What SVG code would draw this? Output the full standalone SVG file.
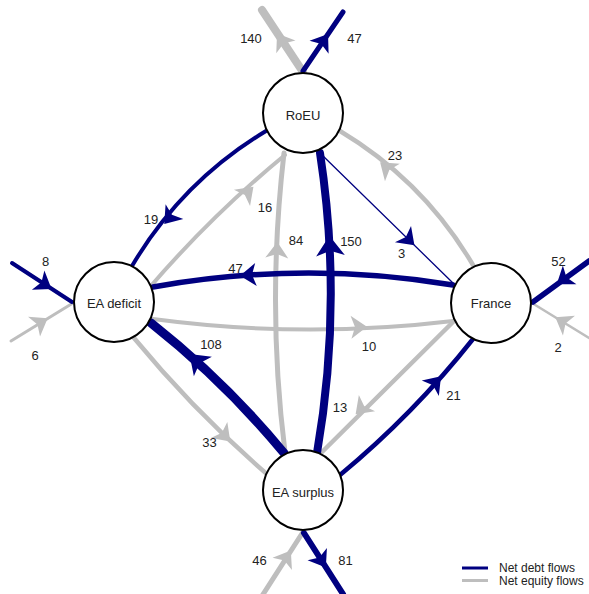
<svg xmlns="http://www.w3.org/2000/svg" width="589" height="594" viewBox="0 0 589 594">
<style>
.debt{fill:none;stroke:#000080;stroke-linecap:round}
.eq{fill:none;stroke:#bebebe;stroke-linecap:round}
.ad{fill:#000080}
.ae{fill:#bebebe}
.node circle{fill:#fff;stroke:#000;stroke-width:2}
.node text,.lbl{font-family:"Liberation Sans",Arial,sans-serif;font-size:13px;fill:#222;text-anchor:middle}
.leg{font-family:"Liberation Sans",Arial,sans-serif;font-size:12px;fill:#222}
</style>
<defs>
<path id="ah" d="M9,0 L-7,-11.5 L-3,0 L-7,11.5 Z"/>
</defs>
<rect width="589" height="594" fill="#fff"/>
<g id="connectors">
<g id="equity">
<path class="eq" stroke-width="8" d="M303,72 L262,10"/>
<path class="eq" stroke-width="4.5" d="M340,131 Q423.5,181 473,265"/>
<path class="eq" stroke-width="4" d="M150,287 Q212,215 285,155"/>
<path class="eq" stroke-width="5" d="M285,452 Q266.5,305 284,153"/>
<path class="eq" stroke-width="4" d="M153,319 Q303,339 453,321"/>
<path class="eq" stroke-width="4.5" d="M455,320 L319,455"/>
<path class="eq" stroke-width="4.5" d="M134,338 Q195,412 268,475"/>
<path class="eq" stroke-width="3" d="M73,303 L11,341"/>
<path class="eq" stroke-width="2.5" d="M532,303 L589,338"/>
<path class="eq" stroke-width="5" d="M303,532 L262,596"/>
<use href="#ah" class="ae" transform="translate(282,41) rotate(-123.5)"/>
<use href="#ah" class="ae" transform="translate(387,168) rotate(-140)"/>
<use href="#ah" class="ae" transform="translate(247,193) rotate(-44.4)"/>
<use href="#ah" class="ae" transform="translate(277,251) rotate(-88)"/>
<use href="#ah" class="ae" transform="translate(358,327) rotate(-2.3)"/>
<use href="#ah" class="ae" transform="translate(362,408) rotate(135.2)"/>
<use href="#ah" class="ae" transform="translate(224,435) rotate(45.6)"/>
<use href="#ah" class="ae" transform="translate(40,323) rotate(-31.5)"/>
<use href="#ah" class="ae" transform="translate(563,322) rotate(-148.4)"/>
<use href="#ah" class="ae" transform="translate(286,558) rotate(-57.4)"/>
</g>
<g id="debt">
<path class="debt" stroke-width="5" d="M303,71 L343,12"/>
<path class="debt" stroke-width="4" d="M266,131 Q182,181.6 132,266"/>
<path class="debt" stroke-width="8" d="M317,453 Q343,303 320,153"/>
<path class="debt" stroke-width="1.3" d="M321,154 L454,284"/>
<path class="debt" stroke-width="5.5" d="M453,285 Q303,260 153,287"/>
<path class="debt" stroke-width="9" d="M284,453 Q224.5,381 151,323"/>
<path class="debt" stroke-width="4.5" d="M340,475 Q413.7,414 473,339"/>
<path class="debt" stroke-width="4" d="M12,263 L72,302"/>
<path class="debt" stroke-width="5.5" d="M589,261 L533,302"/>
<path class="debt" stroke-width="6" d="M304,533 L343,594"/>
<use href="#ah" class="ad" transform="translate(323,41.5) rotate(-55.9)"/>
<use href="#ah" class="ad" transform="translate(170,217) rotate(129.6)"/>
<use href="#ah" class="ad" transform="translate(330,247) rotate(-93) scale(1.25)"/>
<use href="#ah" class="ad" transform="translate(408,239) rotate(44.3)"/>
<use href="#ah" class="ad" transform="translate(249,275) rotate(176)"/>
<use href="#ah" class="ad" transform="translate(197,361) rotate(-137) scale(1.15)"/>
<use href="#ah" class="ad" transform="translate(435,383) rotate(-48)"/>
<use href="#ah" class="ad" transform="translate(44,284) rotate(33)"/>
<use href="#ah" class="ad" transform="translate(564,279) rotate(143.8)"/>
<use href="#ah" class="ad" transform="translate(321,560) rotate(57.4)"/>
</g>
</g>
<g id="edge-labels">
<text class="lbl" x="251" y="43">140</text>
<text class="lbl" x="354.5" y="43">47</text>
<text class="lbl" x="395" y="160">23</text>
<text class="lbl" x="151" y="224">19</text>
<text class="lbl" x="265" y="212">16</text>
<text class="lbl" x="296" y="245">84</text>
<text class="lbl" x="351" y="246">150</text>
<text class="lbl" x="401.5" y="258">3</text>
<text class="lbl" x="235.5" y="273">47</text>
<text class="lbl" x="45.5" y="266">8</text>
<text class="lbl" x="35" y="360">6</text>
<text class="lbl" x="558.5" y="266">52</text>
<text class="lbl" x="558" y="352">2</text>
<text class="lbl" x="211" y="349">108</text>
<text class="lbl" x="369" y="351">10</text>
<text class="lbl" x="340" y="412">13</text>
<text class="lbl" x="453.5" y="400">21</text>
<text class="lbl" x="209.5" y="447">33</text>
<text class="lbl" x="259.5" y="565">46</text>
<text class="lbl" x="345.5" y="565">81</text>
</g>
<g id="RoEU" class="node"><circle cx="303" cy="113" r="40"/><text x="303" y="120">RoEU</text></g>
<g id="EA-deficit" class="node"><circle cx="114" cy="302" r="40"/><text x="114" y="307.5">EA deficit</text></g>
<g id="France" class="node"><circle cx="491" cy="303" r="40"/><text x="491" y="307.5">France</text></g>
<g id="EA-surplus" class="node"><circle cx="303" cy="490" r="40"/><text x="303" y="496.5">EA surplus</text></g>
<g id="legend">
<line x1="462" y1="568" x2="488" y2="568" stroke="#000080" stroke-width="3"/>
<line x1="462" y1="580.5" x2="488" y2="580.5" stroke="#bebebe" stroke-width="3"/>
<text class="leg" x="499" y="572">Net debt flows</text>
<text class="leg" x="499" y="585">Net equity flows</text>
</g>
</svg>
